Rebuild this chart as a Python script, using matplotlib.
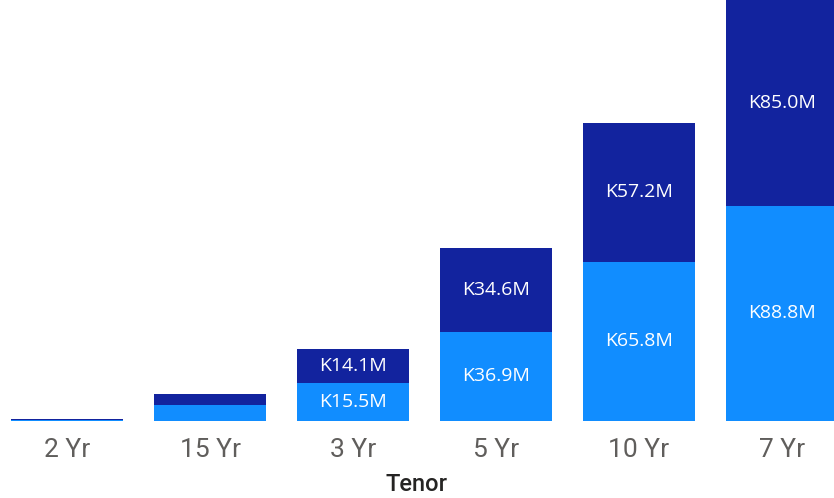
import matplotlib
matplotlib.use("Agg")
import matplotlib.pyplot as plt
import numpy as np

categories = ["2 Yr", "15 Yr", "3 Yr", "5 Yr", "10 Yr", "7 Yr"]
bottom_vals = [0.4, 6.6, 15.5, 36.9, 65.8, 88.8]
top_vals = [0.5, 4.5, 14.1, 34.6, 57.2, 85.0]
bottom_labels = ["", "", "K15.5M", "K36.9M", "K65.8M", "K88.8M"]
top_labels = ["", "", "K14.1M", "K34.6M", "K57.2M", "K85.0M"]

c_bottom = "#118DFF"
c_top = "#12239E"

fig = plt.figure(figsize=(8.34, 4.98), dpi=100)
ax = fig.add_axes([0, 1 - 421 / 498, 1, 421 / 498])
x = np.arange(len(categories))
w = 112 / 143
ax.bar(x, bottom_vals, width=w, color=c_bottom)
ax.bar(x, top_vals, width=w, bottom=bottom_vals, color=c_top)

for xi, b, t, bl, tl in zip(x, bottom_vals, top_vals, bottom_labels, top_labels):
    if bl:
        ax.text(xi, b / 2, bl, ha="center", va="center", color="white",
                fontsize=14, family="Open Sans")
    if tl:
        ax.text(xi, b + t / 2, tl, ha="center", va="center", color="white",
                fontsize=14, family="Open Sans")

ax.set_xlim(-67 / 143, (834 - 67) / 143)
ax.set_ylim(0, bottom_vals[-1] + top_vals[-1])
ax.set_xticks(x)
ax.set_xticklabels(categories, fontsize=19, color="#605E5C", family="Roboto")
ax.tick_params(axis="x", length=0, pad=12)
ax.set_yticks([])
for s in ax.spines.values():
    s.set_visible(False)
ax.set_xlabel("Tenor", fontsize=17, color="#252423", family="Roboto",
              fontweight="medium", labelpad=8)

fig.savefig("out.png", dpi=100)
